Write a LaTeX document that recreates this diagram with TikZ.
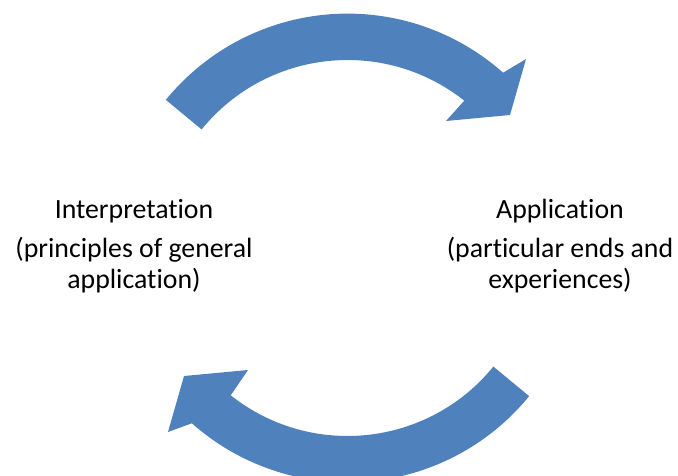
\documentclass[tikz,border=0pt]{standalone}
\usepackage{fontspec}
\setmainfont{Carlito}[Ligatures=NoCommon, RawFeature={-liga;-clig}]
\usetikzlibrary{calc}
\definecolor{arrowblue}{HTML}{4F81BD}
\tikzset{
  lbl/.style={anchor=base, inner sep=0pt, font=\fontsize{27.8}{33}\selectfont, text=black},
  curvedarrow/.style={fill=arrowblue, draw=none}
}
\begin{document}
\begin{tikzpicture}[x=1pt,y=1pt]
\useasboundingbox (0,0) rectangle (678,475);
\clip (0,0) rectangle (678,475);
\coordinate (C) at (347.5,227);
% top arrow
\fill[curvedarrow] ($(C)+(140.8:234.4pt)$) arc[start angle=140.8, end angle=48.4, radius=234.4pt]
  -- (526,416) -- (510,360) -- (446,354)
  -- ($(C)+(51.6:188pt)$) arc[start angle=51.6, end angle=140.9, radius=188pt] -- cycle;
% bottom arrow
\begin{scope}[rotate around={180:(347,229.5)}]
\fill[curvedarrow] ($(C)+(140.8:234.4pt)$) arc[start angle=140.8, end angle=48.4, radius=234.4pt]
  -- (526,416) -- (510,360) -- (446,354)
  -- ($(C)+(51.6:188pt)$) arc[start angle=51.6, end angle=140.9, radius=188pt] -- cycle;
\end{scope}
% labels
\node[lbl] (lInt) at (134,257) {Interpretation};
\node[lbl] (lPr1) at (134,218) {(principles of general};
\node[lbl] (lPr2) at (134,187) {application)};
\node[lbl] (rApp) at (560,257) {Application};
\node[lbl] (rPa1) at (560,218) {(particular ends and};
\node[lbl] (rPa2) at (560,187) {experiences)};
\end{tikzpicture}
\end{document}
